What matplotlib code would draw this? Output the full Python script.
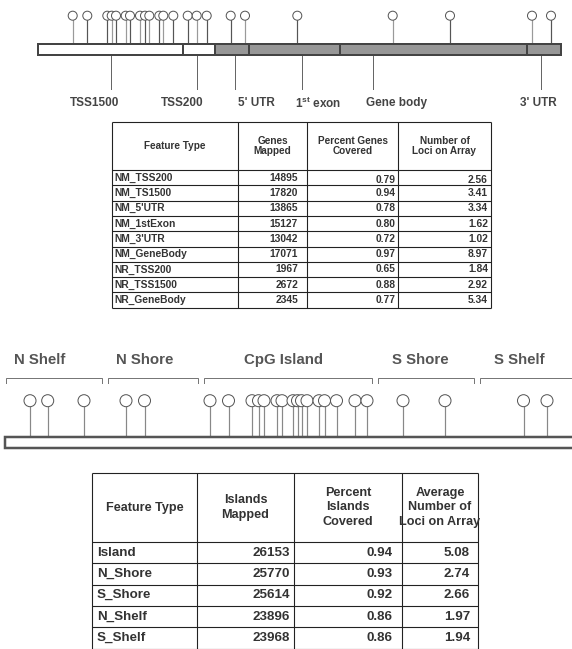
import matplotlib
matplotlib.use("Agg")
import matplotlib.pyplot as plt
from matplotlib.patches import Circle, Rectangle

plt.rcParams['font.family'] = ['Liberation Sans', 'DejaVu Sans']
plt.rcParams['mathtext.fontset'] = 'custom'
plt.rcParams['mathtext.rm'] = 'Liberation Sans'
plt.rcParams['mathtext.bf'] = 'Liberation Sans:bold'

# ---- gene diagram ----
gene_regions = ["TSS1500", "TSS200", "5' UTR", r"1$^{\mathbf{st}}$ exon", "Gene body", "3' UTR"]
gene_bounds = [38, 183, 215, 249, 340, 527, 561]
gene_is_promoter = [True, True, False, False, False, False]
gene_tick_x = [111, 197, 235, 302, 373, 541]
gene_label_x = [95, 182, 256, 318, 397, 538]
gene_loci = [72.7, 87.3, 107.3, 111.7, 116, 125.7, 130, 140, 145, 149.3, 159.3,
             163.3, 173.3, 187.7, 196.7, 206.7, 230.7, 245, 297.3, 392.7, 450, 532, 551]
gene_loci_dark = [False, True, True, False, True, False, True, False, True, False, True,
                  False, True, True, False, True, True, False, True, False, True, False, True]

# ---- island diagram ----
island_regions = ["N Shelf", "N Shore", "CpG Island", "S Shore", "S Shelf"]
island_brackets = [(6, 102), (108, 198), (204, 372), (378, 474), (480, 580)]
island_label_x = [39.5, 144.5, 283, 420, 519]
island_loci = [30, 47.7, 84, 126, 144.5, 210, 228.5, 252, 258.5, 264, 277, 282, 293,
               297.5, 301.5, 307, 319, 324.5, 336.5, 355, 367, 403, 445, 523.5, 547]

# ---- table 1 ----
t1_headers = ["Feature Type", "Genes\nMapped", "Percent Genes\nCovered", "Number of\nLoci on Array"]
t1_features = ["NM_TSS200", "NM_TS1500", "NM_5'UTR", "NM_1stExon", "NM_3'UTR",
               "NM_GeneBody", "NR_TSS200", "NR_TSS1500", "NR_GeneBody"]
t1_mapped = [14895, 17820, 13865, 15127, 13042, 17071, 1967, 2672, 2345]
t1_covered = [0.79, 0.94, 0.78, 0.80, 0.72, 0.97, 0.65, 0.88, 0.77]
t1_loci = [2.56, 3.41, 3.34, 1.62, 1.02, 8.97, 1.84, 2.92, 5.34]

# ---- table 2 ----
t2_headers = ["Feature Type", "Islands\nMapped", "Percent\nIslands\nCovered",
              "Average\nNumber of\nLoci on Array"]
t2_features = ["Island", "N_Shore", "S_Shore", "N_Shelf", "S_Shelf"]
t2_mapped = [26153, 25770, 25614, 23896, 23968]
t2_covered = [0.94, 0.93, 0.92, 0.86, 0.86]
t2_loci = [5.08, 2.74, 2.66, 1.97, 1.94]

PX = 0.72  # points per pixel at dpi 100


def draw_table(ax, edges, top, header_h, row_h, headers, rows, fs, hfs, hspace,
               first_pad, num_pads, row0_drop=0, color="#222222"):
    n = len(rows)
    bottom = top + header_h + n * row_h
    lw = 1.1 * PX
    for x in edges:
        ax.plot([x, x], [top, bottom], color=color, lw=lw, solid_capstyle="butt")
    ys = [top, top + header_h] + [top + header_h + (i + 1) * row_h for i in range(n)]
    for y in ys:
        ax.plot([edges[0], edges[-1]], [y, y], color=color, lw=lw, solid_capstyle="butt")
    for j, h in enumerate(headers):
        ax.text((edges[j] + edges[j + 1]) / 2, top + header_h / 2, h, ha="center",
                va="center", fontsize=hfs, fontweight="bold", color="#333333",
                linespacing=hspace)
    for i, row in enumerate(rows):
        yc = top + header_h + (i + 0.5) * row_h
        ax.text(edges[0] + first_pad, yc, row[0], ha="left", va="center",
                fontsize=fs, fontweight="bold", color="#333333")
        for j in range(1, len(row)):
            # first row of the source table sits a bit low in the last columns
            dy = row0_drop if (i == 0 and j > 1) else 0
            ax.text(edges[j + 1] - num_pads[j - 1], yc + dy, row[j], ha="right",
                    va="center", fontsize=fs, fontweight="bold", color="#333333")


fig = plt.figure(figsize=(5.72, 6.49), dpi=100)
ax = fig.add_axes([0, 0, 1, 1])
ax.set_xlim(0, 572)
ax.set_ylim(649, 0)
ax.axis("off")

# gene diagram: lollipops
for x, dark in zip(gene_loci, gene_loci_dark):
    c = "#555555" if dark else "#9a9a9a"
    ax.plot([x, x], [20.2, 43], color=c, lw=1.2 * PX, zorder=1)
    ax.add_patch(Circle((x, 15.7), 4.5, facecolor="white", edgecolor="#555555",
                        lw=1.0 * PX, zorder=2))

# gene diagram: bar segments
for i in range(len(gene_regions)):
    x0, x1 = gene_bounds[i], gene_bounds[i + 1]
    fc = "white" if gene_is_promoter[i] else "#979797"
    ax.add_patch(Rectangle((x0, 43.5), x1 - x0, 11, facecolor=fc,
                           edgecolor="#444444", lw=2.0 * PX, zorder=3))

for tx, lx, name in zip(gene_tick_x, gene_label_x, gene_regions):
    ax.plot([tx, tx], [55, 89], color="#666666", lw=1.0 * PX, zorder=1)
    ax.text(lx, 103, name, ha="center", va="center", fontsize=8.5,
            fontweight="bold", color="#444444")

# table 1
t1_rows = [(f, str(m), f"{c:.2f}", f"{l:.2f}")
           for f, m, c, l in zip(t1_features, t1_mapped, t1_covered, t1_loci)]
draw_table(ax, [112, 238, 307, 398, 491], 122, 48, 15.3, t1_headers, t1_rows,
           7.4, 7.2, 1.1, 2, [9, 2.7, 3], row0_drop=2.5)

# island diagram: brackets and labels
for (x0, x1), lx, name in zip(island_brackets, island_label_x, island_regions):
    ax.plot([x0, x0, x1, x1], [383, 377.5, 377.5, 383], color="#777777",
            lw=1.0 * PX, solid_joinstyle="miter")
    ax.text(lx, 360, name, ha="center", va="center", fontsize=10.8,
            fontweight="bold", color="#555555")

for x in island_loci:
    ax.plot([x, x], [406.7, 436], color="#888888", lw=1.2 * PX, zorder=1)
    ax.add_patch(Circle((x, 400.7), 6, facecolor="white", edgecolor="#555555",
                        lw=1.0 * PX, zorder=2))

ax.add_patch(Rectangle((5, 436.5), 590, 11.5, facecolor="white",
                       edgecolor="#555555", lw=2.5 * PX, zorder=3))

# table 2
t2_rows = [(f, str(m), f"{c:.2f}", f"{l:.2f}")
           for f, m, c, l in zip(t2_features, t2_mapped, t2_covered, t2_loci)]
draw_table(ax, [92, 197, 294, 402, 478], 473, 69, 21.3, t2_headers, t2_rows,
           9.6, 9.1, 1.25, 5, [3.7, 9.5, 8])

fig.savefig("out.png", dpi=100)
